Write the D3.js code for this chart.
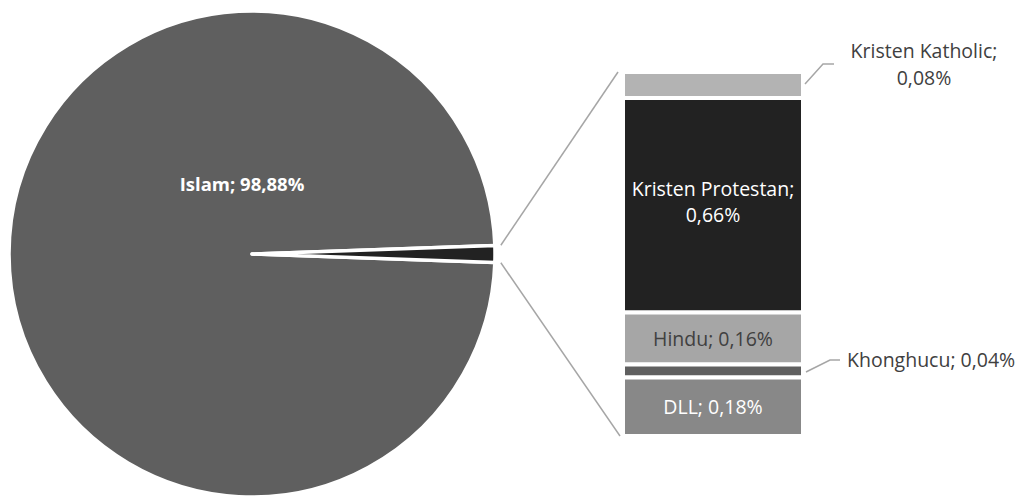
<!DOCTYPE html>
<html>
<head>
<meta charset="utf-8">
<script src="https://cdn.jsdelivr.net/npm/d3@7"></script>
<style>
  html, body { margin: 0; padding: 0; background: #fff; }
  text { font-family: "Open Sans", sans-serif; }
</style>
</head>
<body>
<div class="chart"></div>
<script>
const W = 1023, H = 496;

// pie: main slice + the "other" slice that is broken out into the bar
const pieLabels = ["Islam", "Lainnya"];
const pieValues = [98.88, 1.12];
const pieColors = ["#5f5f5f", "#222222"];

// bar: breakdown of "other", top to bottom
const barLabels = ["Kristen Katholic", "Kristen Protestan", "Hindu", "Khonghucu", "DLL"];
const barValues = [0.08, 0.66, 0.16, 0.04, 0.18];
const barColors = ["#b3b3b3", "#222222", "#a6a6a6", "#5f5f5f", "#888888"];
const barTextColors = ["#404040", "#ffffff", "#404040", "#404040", "#ffffff"];
const barLabelInside = [false, true, true, false, true];

const fmt = v => d3.format(".2f")(v).replace(".", ",") + "%";

var svg = d3.select(".chart")
    .append("svg")
    .attr("width", W)
    .attr("height", H);

// ---- pie ----
const CX = 252, CY = 254, R = 243;
var otherAngle = 2 * Math.PI * pieValues[1] / d3.sum(pieValues);

// rotate so that the small slice is centred on 3 o'clock
var pie = d3.pie()
    .sort(null)
    .startAngle(Math.PI / 2 + otherAngle / 2)
    .endAngle(Math.PI / 2 + otherAngle / 2 + 2 * Math.PI);

var arc = d3.arc().innerRadius(0).outerRadius(R);

var pieG = svg.append("g").attr("transform", "translate(" + CX + "," + CY + ")");

var slices = pie(pieValues);

pieG.selectAll("path.slice")
    .data(slices)
    .enter().append("path")
    .attr("class", "slice")
    .attr("d", arc)
    .style("fill", (d, i) => pieColors[i])
    .style("stroke", "#fff")
    .style("stroke-width", 3.5)
    .style("stroke-linejoin", "round");

pieG.append("text")
    .attr("x", -10)
    .attr("y", -63)
    .attr("text-anchor", "middle")
    .style("fill", "#fff")
    .style("font-weight", "bold")
    .style("font-size", "18.5px")
    .text(pieLabels[0] + "; " + fmt(pieValues[0]));

// ---- bar ----
const BAR_X = 623, BAR_W = 180, BAR_TOP = 72, BAR_BOTTOM = 436;

var y = d3.scaleLinear()
    .domain([0, d3.sum(barValues)])
    .range([BAR_TOP, BAR_BOTTOM]);

var stacked = [];
var acc = 0;
barValues.forEach(function(v, i) {
    stacked.push({ label: barLabels[i], value: v, y0: acc, y1: acc + v, i: i });
    acc += v;
});

var barG = svg.selectAll("g.seg").data(stacked).enter().append("g").attr("class", "seg");

barG.append("rect")
    .attr("x", BAR_X)
    .attr("y", d => y(d.y0))
    .attr("width", BAR_W)
    .attr("height", d => y(d.y1) - y(d.y0))
    .style("fill", d => barColors[d.i])
    .style("stroke", "#fff")
    .style("stroke-width", 4);

// labels inside
barG.filter(d => barLabelInside[d.i]).each(function(d) {
    var g = d3.select(this);
    var mid = (y(d.y0) + y(d.y1)) / 2;
    var t = g.append("text")
        .attr("text-anchor", "middle")
        .style("font-size", "19.5px")
        .style("fill", barTextColors[d.i]);
    if (d.i === 1) {
        t.append("tspan").attr("x", BAR_X + BAR_W / 2).attr("y", mid - 9).text(d.label + ";");
        t.append("tspan").attr("x", BAR_X + BAR_W / 2).attr("y", mid + 17).text(fmt(d.value));
    } else {
        t.attr("x", BAR_X + BAR_W / 2).attr("y", mid + 7).text(d.label + "; " + fmt(d.value));
    }
});

// outside labels with leader lines
var leaderColor = "#a6a6a6";
var kat = stacked[0];
var katMid = (y(kat.y0) + y(kat.y1)) / 2;
svg.append("polyline")
    .attr("points", [[BAR_X + BAR_W + 2, katMid - 1], [BAR_X + BAR_W + 20, 64], [BAR_X + BAR_W + 31, 64]].join(" "))
    .style("fill", "none").style("stroke", leaderColor).style("stroke-width", 1.5);
var katText = svg.append("text")
    .attr("text-anchor", "middle")
    .style("font-size", "19.5px")
    .style("fill", "#404040");
katText.append("tspan").attr("x", 924).attr("y", 58).text(kat.label + ";");
katText.append("tspan").attr("x", 924).attr("y", 85).text(fmt(kat.value));

var kh = stacked[3];
var khMid = (y(kh.y0) + y(kh.y1)) / 2;
svg.append("polyline")
    .attr("points", [[BAR_X + BAR_W + 3, khMid + 1], [BAR_X + BAR_W + 27, 360], [BAR_X + BAR_W + 37, 360]].join(" "))
    .style("fill", "none").style("stroke", leaderColor).style("stroke-width", 1.5);
svg.append("text")
    .attr("x", 847)
    .attr("y", 367)
    .style("font-size", "19.5px")
    .style("fill", "#404040")
    .text(kh.label + "; " + fmt(kh.value));

// ---- connector lines pie -> bar ----
var o = slices[1];
var RC = R + 6;
function edgePoint(a) {
    return [CX + RC * Math.sin(a), CY - RC * Math.cos(a)];
}
var pTop = edgePoint(o.startAngle);
var pBot = edgePoint(o.endAngle);
svg.append("line")
    .attr("x1", pTop[0]).attr("y1", pTop[1])
    .attr("x2", BAR_X - 5).attr("y2", y(0))
    .style("stroke", leaderColor).style("stroke-width", 1.5);
svg.append("line")
    .attr("x1", pBot[0]).attr("y1", pBot[1])
    .attr("x2", BAR_X - 3).attr("y2", y(d3.sum(barValues)))
    .style("stroke", leaderColor).style("stroke-width", 1.5);
</script>
</body>
</html>
